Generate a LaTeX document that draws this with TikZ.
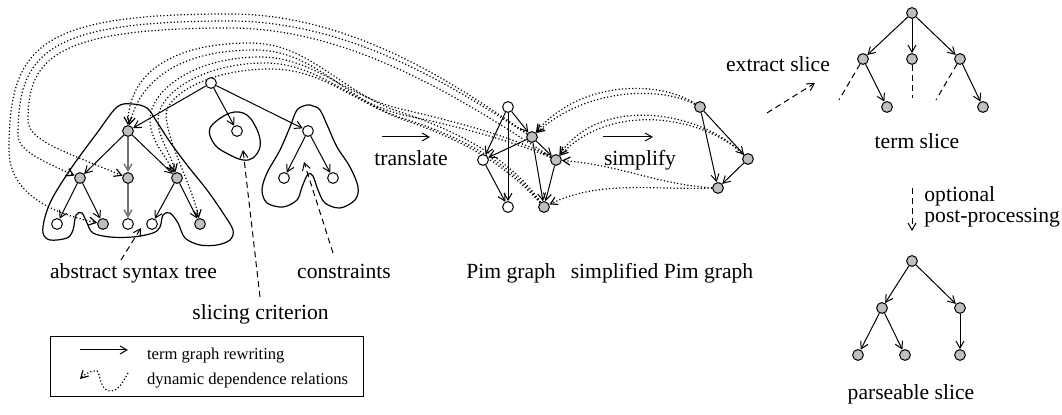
\documentclass[tikz,border=0pt]{standalone}
\usepackage{fontspec}
\setmainfont{Liberation Serif}
\usetikzlibrary{arrows.meta,backgrounds}
\definecolor{nodegray}{gray}{0.75}
\definecolor{treegray}{gray}{0.45}
\begin{document}
\begin{tikzpicture}[x=0.5pt,y=-0.5pt,
  vtx/.style={circle,draw=black,line width=0.5pt,inner sep=0pt,minimum size=5.4pt,fill=white},
  hit/.style={vtx,fill=nodegray},
  tip/.style={-{Straight Barb[length=3.5pt,width=4pt]}},
  edge/.style={line width=0.5pt,tip},
  treeedge/.style={edge,draw=treegray,line width=0.7pt},
  dep/.style={line width=0.6pt,dash pattern=on 0.6pt off 1.1pt,tip},
  pointer/.style={line width=0.5pt,dash pattern=on 3pt off 2pt,tip},
  stub/.style={line width=0.5pt,dash pattern=on 3pt off 2pt},
  region/.style={line width=0.6pt},
  lbl/.style={font=\fontsize{10.8}{13}\selectfont,anchor=base,inner sep=0pt},
  keytext/.style={font=\fontsize{8.3}{10}\selectfont,anchor=base west,inner sep=0pt},
]
\useasboundingbox (0,0) rectangle (1062,415);

% ---------- abstract syntax tree ----------
\node[vtx] (root) at (211,83) {};
\node[hit] (A)  at (128,131) {};
\node[hit] (B1) at (80,178) {};
\node[hit] (B2) at (128,178) {};
\node[hit] (B3) at (177,178) {};
\node[vtx] (C1) at (57,224) {};
\node[hit] (C2) at (103,224) {};
\node[vtx] (C3) at (128,224) {};
\node[vtx] (C4) at (152,224) {};
\node[hit] (C5) at (200,224) {};
\node[vtx] (D)  at (237,131) {};
\node[vtx] (E)  at (308,131) {};
\node[vtx] (E1) at (284,178) {};
\node[vtx] (E2) at (333,178) {};

\draw[edge] (root) -- (A);
\draw[edge] (root) -- (D);
\draw[edge] (root) -- (E);
\draw[edge] (A) -- (B1);
\draw[treeedge] (A) -- (B2);
\draw[edge] (A) -- (B3);
\draw[edge] (B1) -- (C1);
\draw[edge] (B1) -- (C2);
\draw[treeedge] (B2) -- (C3);
\draw[edge] (B3) -- (C4);
\draw[edge] (B3) -- (C5);
\draw[edge] (E) -- (E1);
\draw[edge] (E) -- (E2);

% regions around the tree, the criterion and the constraints
\draw[region] plot[smooth cycle,tension=0.55] coordinates {
  (132,104) (147,108) (157,122) (170,142) (187,165) (207,190) (223,213)
  (233,230) (230,240) (217,245) (200,245) (185,238) (178,223) (170,213)
  (163,215) (160,227) (153,233) (133,237) (110,237) (93,233) (87,223)
  (82,213) (76,215) (73,230) (67,238) (50,240) (43,233) (45,217)
  (53,197) (72,167) (97,133) (117,107)};
\draw[region] plot[smooth cycle,tension=0.6] coordinates {
  (210,128) (230,113) (247,115) (258,132) (260,147) (253,158)
  (243,160) (230,155) (215,145)};
\draw[region] plot[smooth cycle,tension=0.55] coordinates {
  (307,105) (297,110) (290,127) (280,150) (267,173) (262,190) (267,203)
  (283,207) (297,200) (302,187) (308,174) (313,176) (318,190) (325,203)
  (340,208) (355,200) (358,187) (350,167) (337,147) (328,127) (320,110)
  (313,106)};

% ---------- Pim graph ----------
\node[vtx] (P1) at (508,107) {};
\node[hit] (P2) at (532,137) {};
\node[vtx] (P3) at (483,160) {};
\node[hit] (P4) at (556,160) {};
\node[vtx] (P5) at (508,207) {};
\node[hit] (P6) at (544,207) {};
\draw[edge] (P1) -- (P2);
\draw[edge] (P1) -- (P3);
\draw[edge] (P1) -- (P5);
\draw[edge] (P2) -- (P3);
\draw[edge] (P2) -- (P4);
\draw[edge] (P2) -- (P6);
\draw[edge] (P3) -- (P5);
\draw[edge] (P4) -- (P6);

% ---------- simplified Pim graph ----------
\node[hit] (S1) at (700,107) {};
\node[hit] (S2) at (748,159) {};
\node[hit] (S3) at (718,188) {};
\draw[edge] (S1) -- (S2);
\draw[edge] (S1) -- (S3);
\draw[edge] (S2) -- (S3);

% ---------- term slice ----------
\node[hit] (T0) at (912,13) {};
\node[hit] (T1) at (863,59) {};
\node[hit] (T2) at (912,59) {};
\node[hit] (T3) at (960,59) {};
\node[hit] (T4) at (887,107) {};
\node[hit] (T5) at (983,107) {};
\draw[edge] (T0) -- (T1);
\draw[edge] (T0) -- (T2);
\draw[edge] (T0) -- (T3);
\draw[edge] (T1) -- (T4);
\draw[edge] (T3) -- (T5);
\coordinate (t1cut) at (839,100);
\coordinate (t2cut) at (912,98);
\coordinate (t3cut) at (936,100);
\draw[stub] (T1) -- (t1cut);
\draw[stub] (T2) -- (t2cut);
\draw[stub] (T3) -- (t3cut);

% ---------- parseable slice ----------
\node[hit] (R0) at (912,261) {};
\node[hit] (R1) at (882,308) {};
\node[hit] (R2) at (960,308) {};
\node[hit] (R3) at (858,355) {};
\node[hit] (R4) at (905,355) {};
\node[hit] (R5) at (960,355) {};
\draw[edge] (R0) -- (R1);
\draw[edge] (R0) -- (R2);
\draw[edge] (R1) -- (R3);
\draw[edge] (R1) -- (R4);
\draw[edge] (R2) -- (R5);

% ---------- dependence relations ----------
\begin{pgfonlayer}{background}
% Pim graph back to the syntax tree, outer loops
\draw[dep] (P2) .. controls (470,95) and (360,14) .. (230,14)
  .. controls (40,14) and (9,45) .. (9,150)
  .. controls (9,190) and (45,212) .. (C2);
\draw[dep] (P2) .. controls (472,100) and (360,21) .. (230,21)
  .. controls (48,21) and (18,52) .. (18,135)
  .. controls (18,150) and (40,160) .. (B1);
\draw[dep] (P4) .. controls (480,112) and (360,28) .. (230,28)
  .. controls (56,28) and (28,58) .. (28,120)
  .. controls (28,140) and (60,150) .. (B2);
% Pim graph back to the syntax tree, inner loops
\draw[dep] (P6) .. controls (515,165) and (470,135) .. (400,112)
  .. controls (340,92) and (310,43) .. (250,43)
  .. controls (170,43) and (128,75) .. (A);
\draw[dep] (P6) .. controls (513,168) and (472,140) .. (402,118)
  .. controls (345,100) and (315,50) .. (255,50)
  .. controls (180,50) and (140,80) .. (A);
\draw[dep] (P4) .. controls (520,140) and (470,125) .. (405,110)
  .. controls (345,97) and (315,57) .. (260,57)
  .. controls (195,57) and (150,90) .. (150,120)
  .. controls (150,140) and (165,155) .. (B3);
\draw[dep] (P4) .. controls (522,145) and (475,130) .. (408,116)
  .. controls (350,104) and (320,63) .. (265,63)
  .. controls (205,63) and (158,92) .. (158,120)
  .. controls (158,138) and (170,152) .. (B3);
\draw[dep] (P6) .. controls (510,170) and (475,145) .. (410,122)
  .. controls (355,104) and (325,69) .. (270,69)
  .. controls (210,69) and (166,95) .. (166,115)
  .. controls (168,145) and (192,185) .. (C5);
% simplified graph back to the Pim graph
\draw[dep] (S1) .. controls (660,80) and (580,80) .. (P2);
\draw[dep] (S1) .. controls (660,86) and (586,88) .. (P2);
\draw[dep] (S2) .. controls (700,110) and (600,95) .. (P4);
\draw[dep] (S2) .. controls (705,117) and (612,100) .. (P4);
\draw[dep] (S3) .. controls (660,185) and (620,165) .. (P4);
\draw[dep] (S3) .. controls (650,190) and (600,180) .. (P6);
\end{pgfonlayer}

% ---------- transformation arrows ----------
\coordinate (trA) at (382,137);
\coordinate (trB) at (430,137);
\draw[edge] (trA) -- (trB);
\node[lbl] (translate) at (411,166) {translate};
\coordinate (smA) at (603,137);
\coordinate (smB) at (653,137);
\draw[edge] (smA) -- (smB);
\node[lbl] (simplify) at (640,166) {simplify};
\coordinate (exA) at (767,113);
\coordinate (exB) at (815,83);
\draw[pointer] (exA) -- (exB);
\node[lbl] (extract) at (778,72) {extract slice};
\coordinate (opA) at (912,188);
\coordinate (opB) at (912,231);
\draw[pointer] (opA) -- (opB);
\node[font=\fontsize{10.8}{9.3}\selectfont,align=left,anchor=north west,inner sep=0pt]
  (optional) at (924,186) {optional\\post-processing};

% ---------- captions ----------
\node[lbl] (astlbl) at (133.5,279) {abstract syntax tree};
\node[lbl] (conlbl) at (344,279) {constraints};
\node[lbl] (crilbl) at (260.5,320) {slicing criterion};
\node[lbl] (pimlbl) at (511,279) {Pim graph};
\node[lbl] (simlbl) at (662,279) {simplified Pim graph};
\node[lbl] (termlbl) at (917,149) {term slice};
\node[lbl] (parslbl) at (911,400) {parseable slice};

\coordinate (astA) at (121,260);
\coordinate (astB) at (141,228);
\draw[pointer] (astA) -- (astB);
\coordinate (criA) at (260,297);
\coordinate (criB) at (243,150);
\draw[pointer] (criA) -- (criB);
\coordinate (conA) at (333,253);
\coordinate (conB) at (304,162);
\draw[pointer] (conA) -- (conB);

% ---------- legend ----------
\node[draw,line width=0.5pt,minimum width=156.5pt,minimum height=30pt,inner sep=0pt] (legend) at (206.5,367) {};
\coordinate (keyA) at (80,350);
\coordinate (keyB) at (128,350);
\draw[edge] (keyA) -- (keyB);
\coordinate (keyC) at (128,373);
\coordinate (keyD) at (80,379);
\draw[dep] (keyC) .. controls (122,384) and (118,391) .. (110,391)
  .. controls (100,391) and (100,372) .. (97,371)
  .. controls (92,370) and (86,373) .. (keyD);
\node[keytext] (key1) at (146.7,360) {term graph rewriting};
\node[keytext] (key2) at (146.7,385) {dynamic dependence relations};
\end{tikzpicture}
\end{document}
